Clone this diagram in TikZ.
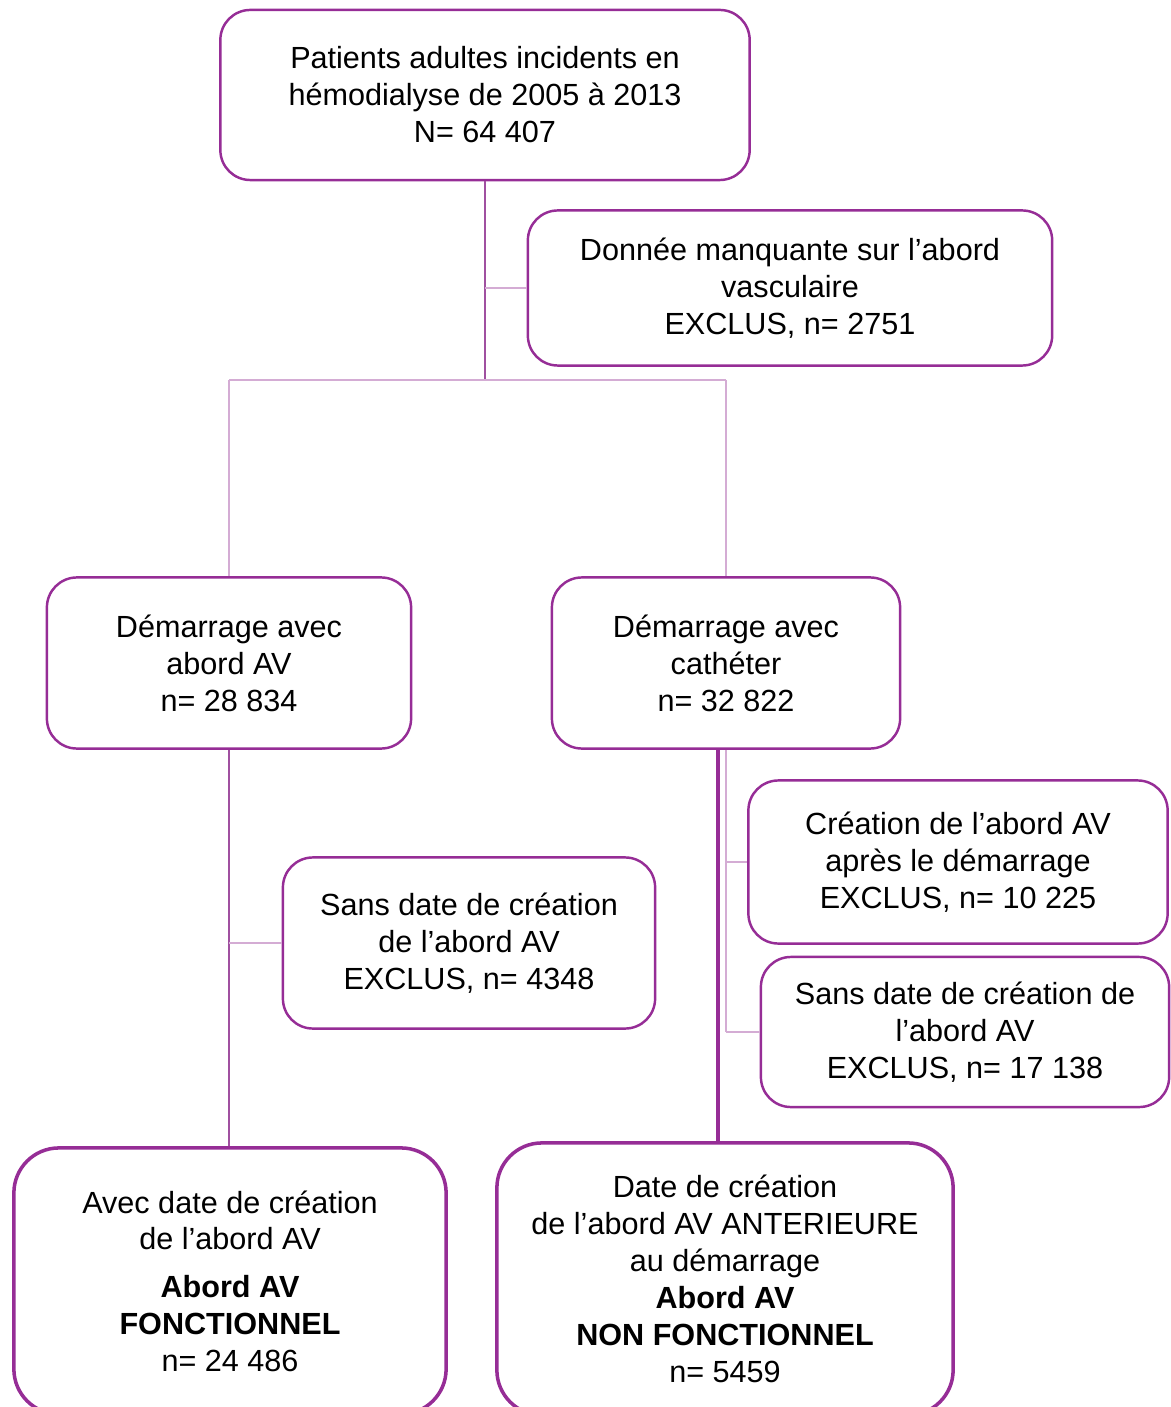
\documentclass[tikz,border=0pt]{standalone}
\usepackage{fontspec}
\setmainfont{Liberation Sans}
\definecolor{violet}{RGB}{150,45,150}
\definecolor{violetclair}{RGB}{212,172,212}
\definecolor{violetmoyen}{RGB}{160,80,160}
\tikzset{
    boite/.style={draw=violet, line width=0.7pt, rounded corners=0.3cm, align=center, fill=white},
    boitefin/.style={boite, line width=1pt, rounded corners=0.45cm},
    lien/.style={draw=violetmoyen, line width=0.6pt},
    lienfort/.style={draw=violet, line width=0.9pt},
    lienclair/.style={draw=violetclair, line width=0.5pt}
}
\begin{document}
\begin{tikzpicture}[x=0.01cm, y=-0.01cm, font=\fontsize{8.7}{10.5}\selectfont]
    \useasboundingbox (0,0) rectangle (1171,1407);
    \clip (0,0) rectangle (1171,1407);
    % boites
    \node[boite, minimum width=5.29cm, minimum height=1.70cm] (patients) at (485,95) {Patients adultes incidents en\\hémodialyse de 2005 à 2013\\N= 64 407};
    \node[boite, minimum width=5.24cm, minimum height=1.55cm] (manquant) at (790,288) {Donnée manquante sur l’abord\\vasculaire\\EXCLUS, n= 2751};
    \node[boite, minimum width=3.64cm, minimum height=1.71cm] (demAV) at (229,663) {Démarrage avec\\abord AV\\n= 28 834};
    \node[boite, minimum width=3.48cm, minimum height=1.71cm] (demCath) at (726,663) {Démarrage avec\\cathéter\\n= 32 822};
    \node[boite, minimum width=3.72cm, minimum height=1.71cm] (sansDateG) at (469,943) {Sans date de création\\de l’abord AV\\EXCLUS, n= 4348};
    \node[boite, minimum width=4.19cm, minimum height=1.63cm] (creaApres) at (958,862) {Création de l’abord AV\\après le démarrage\\EXCLUS, n= 10 225};
    \node[boite, minimum width=4.08cm, minimum height=1.50cm] (sansDateD) at (965,1032) {Sans date de création de\\l’abord AV\\EXCLUS, n= 17 138};
    \node[boitefin, minimum width=4.32cm, minimum height=2.66cm] (avecDate) at (230,1281) {Avec date de création\\de l’abord AV\\[3pt]\textbf{Abord AV}\\\textbf{FONCTIONNEL}\\n= 24 486};
    \node[boitefin, minimum width=4.56cm, minimum height=2.72cm] (anterieure) at (725,1279) {Date de création\\de l’abord AV ANTERIEURE\\au démarrage\\\textbf{Abord AV}\\\textbf{NON FONCTIONNEL}\\n= 5459};
    % liens
    \coordinate (fourche) at (485,380);
    \coordinate (tronc) at (718,749);
    \draw[lien] (patients.south) -- (fourche);
    \draw[lienclair] (patients.south |- manquant.west) -- (manquant.west);
    \draw[lienclair] (demAV.north |- fourche) -- (demCath.north |- fourche);
    \draw[lienclair] (demAV.north |- fourche) -- (demAV.north);
    \draw[lienclair] (demCath.north |- fourche) -- (demCath.north);
    \draw[lien] (demAV.south) -- (demAV.south |- avecDate.north);
    \draw[lienclair] (demAV.south |- sansDateG.west) -- (sansDateG.west);
    \draw[lienfort] (tronc) -- (tronc |- anterieure.north);
    \draw[lienclair] (demCath.south) -- (demCath.south |- sansDateD.west);
    \draw[lienclair] (demCath.south |- creaApres.west) -- (creaApres.west);
    \draw[lienclair] (demCath.south |- sansDateD.west) -- (sansDateD.west);
\end{tikzpicture}
\end{document}
